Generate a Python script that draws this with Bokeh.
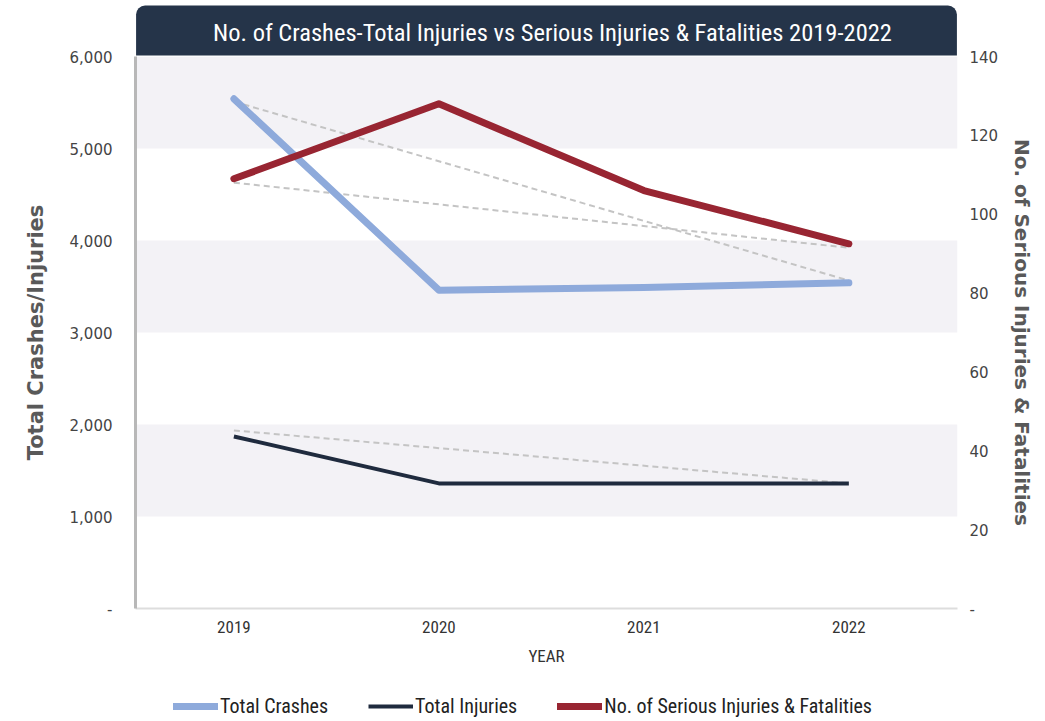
import numpy as np
from bokeh.plotting import figure
from bokeh.layouts import column
from bokeh.models import Range1d, LinearAxis, FixedTicker, BoxAnnotation, Legend, LegendItem
from bokeh.embed import file_html
from bokeh.resources import INLINE

# ---- data ----
years = ["2019", "2020", "2021", "2022"]
total_crashes = [5540, 3460, 3490, 3540]
total_injuries = [1870, 1360, 1360, 1360]
serious_fatal = [109, 128, 106, 92.5]
# dashed reference lines, first year -> last year
crashes_ref = [5510, 3565]
injuries_ref = [1935, 1360]
serious_ref = [108, 91.5]
left_ticks = [0, 1000, 2000, 3000, 4000, 5000, 6000]
right_ticks = [0, 20, 40, 60, 80, 100, 120, 140]
series_names = ["Total Crashes", "Total Injuries", "No. of Serious Injuries & Fatalities"]

xs = list(range(len(years)))
ref_x = [xs[0], xs[-1]]

COND = "Liberation Sans Narrow, Roboto Condensed, Roboto"
NUM = "DejaVu Sans"
STYLES = [dict(color="#8eaadb", line_width=7, line_cap="round", line_join="round"),
          dict(color="#1f2b3e", line_width=4, line_join="round"),
          dict(color="#982532", line_width=7, line_cap="round", line_join="round")]

p = figure(width=1037, height=690, output_backend="svg", toolbar_location=None,
           x_range=Range1d(-0.48, 3.53), y_range=Range1d(left_ticks[0], left_ticks[-1]),
           min_border_left=135, min_border_right=80, min_border_top=56, min_border_bottom=82,
           outline_line_color=None, background_fill_color="white", border_fill_color="white")
p.extra_y_ranges = {"right": Range1d(right_ticks[0], right_ticks[-1])}

# alternating bands
for lo, hi in zip(left_ticks[1::2], left_ticks[2::2]):
    p.add_layout(BoxAnnotation(bottom=lo, top=hi, fill_color="#f3f2f6", fill_alpha=1.0,
                               line_color=None, level="underlay"))
p.xgrid.visible = False
p.ygrid.visible = False

# title
p.title.text = "No. of Crashes-Total Injuries vs Serious Injuries & Fatalities 2019-2022"
p.title.text_font = COND
p.title.text_font_size = "24.5px"
p.title.text_font_style = "normal"
p.title.text_color = "white"
p.title.align = "center"
p.title.background_fill_color = "#253449"
p.title.padding = {"left": 77, "right": 65, "top": 12, "bottom": 9}
p.title.border_radius = {"top_left": 9, "top_right": 9, "bottom_right": 0, "bottom_left": 0}
p.title.standoff = 2
p.title.offset = 0

# dashed reference lines
dash_kw = dict(color="#c4c4c4", line_width=2, line_dash="6 4")
p.line(ref_x, crashes_ref, **dash_kw)
p.line(ref_x, serious_ref, y_range_name="right", **dash_kw)
p.line(ref_x, injuries_ref, **dash_kw)

p.line(xs, total_crashes, **STYLES[0])
p.line(xs, total_injuries, **STYLES[1])
p.line(xs, serious_fatal, y_range_name="right", **STYLES[2])

# x axis
xa = p.xaxis[0]
xa.ticker = FixedTicker(ticks=xs)
xa.major_label_overrides = {i: y for i, y in zip(xs, years)}
xa.axis_label = "YEAR"
xa.axis_line_color = "#dddddd"
xa.axis_line_width = 2
xa.major_tick_line_color = None
xa.minor_tick_line_color = None
xa.major_label_text_font = COND
xa.major_label_text_font_size = "17px"
xa.major_label_text_color = "#333333"
xa.major_label_standoff = 6
xa.axis_label_text_font = COND
xa.axis_label_text_font_size = "17px"
xa.axis_label_text_font_style = "normal"
xa.axis_label_text_color = "#333333"
xa.axis_label_standoff = 10

# left axis
ya = p.yaxis[0]
ya.ticker = FixedTicker(ticks=left_ticks)
ya.major_label_overrides = {t: ("-" if t == 0 else f"{t:,}") for t in left_ticks}
ya.axis_label = "Total Crashes/Injuries"
ya.axis_line_color = "#b8b8b8"
ya.axis_line_width = 3
ya.major_tick_line_color = None
ya.minor_tick_line_color = None
ya.major_label_text_font = NUM
ya.major_label_text_font_size = "15px"
ya.major_label_text_color = "#444444"
ya.major_label_standoff = 17
ya.axis_label_text_font = NUM
ya.axis_label_text_font_size = "21px"
ya.axis_label_text_font_style = "bold"
ya.axis_label_text_color = "#595959"
ya.axis_label_standoff = 19

# right axis
ra = LinearAxis(y_range_name="right", ticker=FixedTicker(ticks=right_ticks))
ra.major_label_overrides = {t: ("-" if t == 0 else str(t)) for t in right_ticks}
ra.axis_label = "No. of Serious Injuries & Fatalities"
ra.axis_line_color = None
ra.major_tick_line_color = None
ra.minor_tick_line_color = None
ra.major_label_text_font = NUM
ra.major_label_text_font_size = "15px"
ra.major_label_text_color = "#444444"
ra.major_label_standoff = 6
ra.axis_label_text_font = NUM
ra.axis_label_text_font_size = "20px"
ra.axis_label_text_font_style = "bold"
ra.axis_label_text_color = "#595959"
ra.axis_label_standoff = 9
p.add_layout(ra, "right")

# legend strip (separate figure below the chart; its frame aligns with the chart's frame)
lg = figure(width=1037, height=30, output_backend="svg", toolbar_location=None,
            x_range=Range1d(0, 1), y_range=Range1d(0, 1),
            x_axis_type=None, y_axis_type=None, min_border=0,
            outline_line_color=None, background_fill_color="white", border_fill_color="white")
items = []
for name, st in zip(series_names, STYLES):
    r = lg.line(x=np.array([np.nan]), y=np.array([np.nan]), **st)
    items.append(LegendItem(label=name, renderers=[r]))
legend = Legend(items=items, orientation="horizontal", location=(38, 2),
                label_text_font=COND, label_text_font_size="20px", label_text_color="#222222",
                glyph_width=45, label_standoff=2, spacing=40,
                background_fill_alpha=0, border_line_color=None, margin=0, padding=0)
lg.add_layout(legend, "center")

layout = column(p, lg, spacing=0)
open("out.html", "w").write(file_html(layout, INLINE))
